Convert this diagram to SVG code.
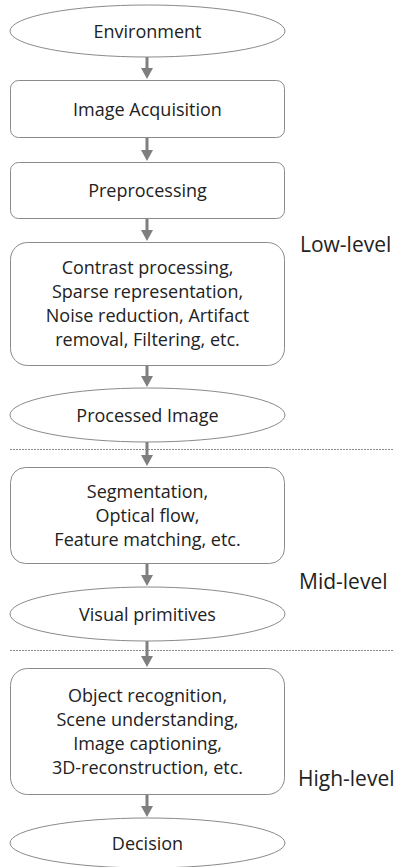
<svg xmlns="http://www.w3.org/2000/svg" width="406" height="867" viewBox="0 0 406 867">
<defs>
<style>
.shape{fill:#ffffff;stroke:#8a8a8a;stroke-width:1}
.t{font-family:"Open Sans","Liberation Sans",sans-serif;font-size:18px;fill:#222222;text-anchor:middle}
.lvl{font-family:"Open Sans","Liberation Sans",sans-serif;font-size:21px;fill:#222222}
.arr{stroke:#7f7f7f;stroke-width:3;fill:none}
.sep{stroke:#8a8a8a;stroke-width:1;stroke-dasharray:2,1;fill:none}
</style>
<marker id="ah" markerWidth="4" markerHeight="4" refX="2" refY="2" orient="auto" markerUnits="strokeWidth">
<path d="M0,0 L3.7,2 L0,4 Z" fill="#7f7f7f"/>
</marker>
</defs>
<rect width="406" height="867" fill="#ffffff"/>
<g id="connectors">
<line class="arr" x1="147" y1="57" x2="147" y2="74" marker-end="url(#ah)"/>
<line class="arr" x1="147" y1="138" x2="147" y2="156" marker-end="url(#ah)"/>
<line class="arr" x1="147" y1="219" x2="147" y2="236" marker-end="url(#ah)"/>
<line class="arr" x1="147" y1="366" x2="147" y2="382" marker-end="url(#ah)"/>
<line class="arr" x1="147" y1="442" x2="147" y2="461" marker-end="url(#ah)"/>
<line class="arr" x1="147" y1="564" x2="147" y2="581" marker-end="url(#ah)"/>
<line class="arr" x1="147" y1="641" x2="147" y2="662" marker-end="url(#ah)"/>
<line class="arr" x1="147" y1="795" x2="147" y2="812" marker-end="url(#ah)"/>
</g>
<g id="separators">
<line class="sep" x1="10" y1="449.5" x2="393" y2="449.5"/>
<line class="sep" x1="10" y1="650.5" x2="393" y2="650.5"/>
</g>
<g id="environment">
<ellipse class="shape" cx="147.5" cy="31" rx="137.5" ry="26"/>
<text class="t" x="147.5" y="37.5">Environment</text>
</g>
<g id="acquisition">
<rect class="shape" x="10.5" y="80.5" width="274" height="57" rx="8"/>
<text class="t" x="147.5" y="116">Image Acquisition</text>
</g>
<g id="preprocessing">
<rect class="shape" x="10.5" y="162.5" width="274" height="56" rx="8"/>
<text class="t" x="147.5" y="197">Preprocessing</text>
</g>
<g id="lowlevel-ops">
<rect class="shape" x="10.5" y="242.5" width="274" height="123" rx="17"/>
<text class="t" x="147.5" y="274">Contrast processing,</text>
<text class="t" x="147.5" y="298">Sparse representation,</text>
<text class="t" x="147.5" y="322">Noise reduction, Artifact</text>
<text class="t" x="147.5" y="346">removal, Filtering, etc.</text>
</g>
<g id="processed-image">
<ellipse class="shape" cx="147.5" cy="415" rx="137.5" ry="27"/>
<text class="t" x="147.5" y="421.5">Processed Image</text>
</g>
<g id="midlevel-ops">
<rect class="shape" x="10.5" y="467.5" width="274" height="96" rx="15"/>
<text class="t" x="147.5" y="498">Segmentation,</text>
<text class="t" x="147.5" y="522">Optical flow,</text>
<text class="t" x="147.5" y="546">Feature matching, etc.</text>
</g>
<g id="visual-primitives">
<ellipse class="shape" cx="147.5" cy="614" rx="137.5" ry="27"/>
<text class="t" x="147.5" y="620.5">Visual primitives</text>
</g>
<g id="highlevel-ops">
<rect class="shape" x="10.5" y="668.5" width="274" height="126" rx="17"/>
<text class="t" x="147.5" y="702">Object recognition,</text>
<text class="t" x="147.5" y="726">Scene understanding,</text>
<text class="t" x="147.5" y="750">Image captioning,</text>
<text class="t" x="147.5" y="774">3D-reconstruction, etc.</text>
</g>
<g id="decision">
<ellipse class="shape" cx="147.5" cy="843" rx="137.5" ry="25"/>
<text class="t" x="147.5" y="849.5">Decision</text>
</g>
<g id="levels">
<text class="lvl" x="300" y="252">Low-level</text>
<text class="lvl" x="299" y="589">Mid-level</text>
<text class="lvl" x="298" y="786">High-level</text>
</g>
</svg>
